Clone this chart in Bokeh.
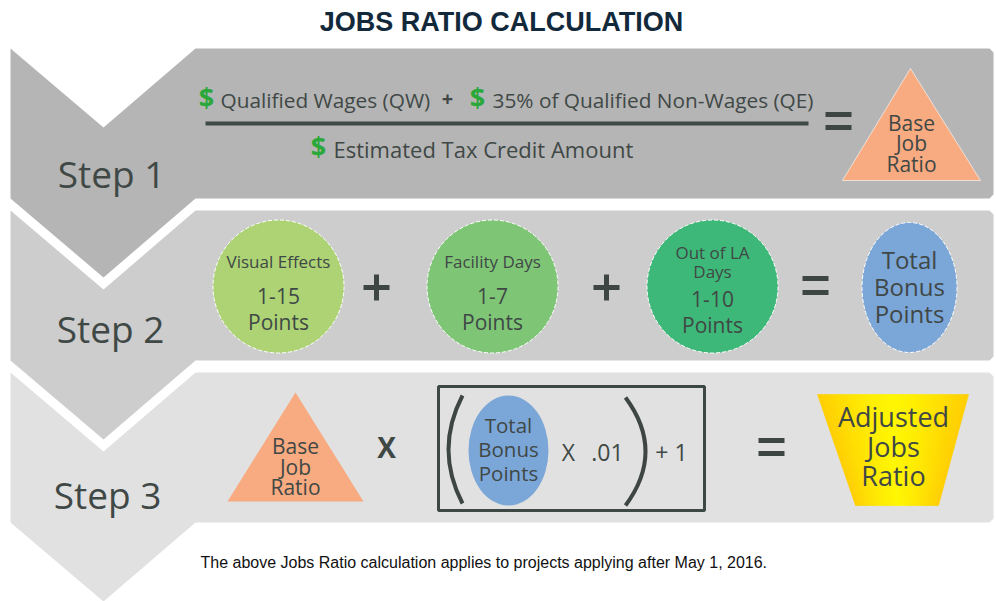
from bokeh.plotting import figure
from bokeh.models import Range1d
from bokeh.core.properties import value
from bokeh.embed import file_html
from bokeh.resources import INLINE

# ---------------- content ----------------
TITLE = "JOBS RATIO CALCULATION"
STEP_LABELS = ["Step 1", "Step 2", "Step 3"]
STEP_COLORS = ["#b5b5b5", "#cdcdcd", "#e1e1e1"]

NUMERATOR_A = "Qualified Wages (QW)"
NUMERATOR_B = "35% of Qualified Non-Wages (QE)"
DENOMINATOR = "Estimated Tax Credit Amount"
BASE_RATIO = ["Base", "Job", "Ratio"]

BONUS_NAMES = [["Visual Effects"], ["Facility Days"], ["Out of LA", "Days"]]
BONUS_RANGES = ["1-15", "1-7", "1-10"]
BONUS_COLORS = ["#add375", "#7ec676", "#3db878"]
TOTAL_BONUS = ["Total", "Bonus", "Points"]
ADJUSTED = ["Adjusted", "Jobs", "Ratio"]
FACTOR = ".01"
FOOTNOTE = "The above Jobs Ratio calculation applies to projects applying after May 1, 2016."

# ---------------- layout ----------------
W, H = 996, 601
TXT = "#404846"
GREEN = "#2aa83a"
ORANGE = "#f8aa80"
BLUE = "#7ba6d8"
OS = "Open Sans"
LS = "Liberation Sans"

p = figure(width=W, height=H, output_backend="svg", toolbar_location=None,
           x_range=Range1d(0, W), y_range=Range1d(H, 0),
           x_axis_type=None, y_axis_type=None, min_border=0)
p.grid.visible = False
p.outline_line_color = None
p.background_fill_color = "white"
p.border_fill_color = "white"


def txt(x, ycap, s, size, color=TXT, font=OS, bold=False, align="center"):
    p.text(x=[x], y=[ycap - 0.045 * size], text=[s],
           text_font=value(font), text_font_size=value(f"{size}px"),
           text_font_style="bold" if bold else "normal",
           text_color=color, text_align=align, text_baseline="alphabetic")


# step bands (chevrons)
STEP_TOPS = [48, 210, 372]
BAND_H = 150
NOTCH = 79
for top, col in zip(STEP_TOPS, STEP_COLORS):
    bot = top + BAND_H
    xs = [10, 103, 195, 989, 993, 993, 989, 195, 103, 10]
    ys = [top, top + NOTCH, top, top, top + 4, bot - 4, bot, bot, bot + NOTCH, bot]
    p.patch(xs, ys, fill_color=col, line_color=None)

STEP_CENTERS = [(111, 175), (110, 330), (107, 496)]
for (cx, cy), lab in zip(STEP_CENTERS, STEP_LABELS):
    txt(cx, cy, lab, 37)

# title
txt(501, 22.5, TITLE, 27, color="#12293b", font=LS, bold=True)

# ---- step 1 ----
txt(206, 97, "$", 27, color=GREEN, bold=True)
txt(220, 100, NUMERATOR_A, 20.8, align="left")
txt(447, 99, "+", 20, bold=True)
txt(477, 97, "$", 27, color=GREEN, bold=True)
txt(492, 100, NUMERATOR_B, 20.8, align="left")
p.segment(x0=[205], y0=[123], x1=[808], y1=[123], line_color="#3f4b47", line_width=4)
txt(318, 146, "$", 27, color=GREEN, bold=True)
txt(333, 149.5, DENOMINATOR, 22, align="left")


def equals(x0, x1, y0, y1):
    p.segment(x0=[x0, x0], y0=[y0, y1], x1=[x1, x1], y1=[y0, y1],
              line_color="#3d4642", line_width=5)


def plus(cx, cy, half):
    p.segment(x0=[cx - half, cx], y0=[cy, cy - half], x1=[cx + half, cx], y1=[cy, cy + half],
              line_color="#3d4642", line_width=5)


equals(825, 851, 114, 127)
p.patch([910, 980, 842], [68, 180, 180], fill_color=ORANGE, line_color="white", line_width=1, line_alpha=0.6)
for yy, s in zip([123, 143, 164], BASE_RATIO):
    txt(911, yy, s, 21)

# ---- step 2 ----
CIRCLE_X = [278, 492, 712]
CIRCLE_Y = 286
for cx, names, rng, col in zip(CIRCLE_X, BONUS_NAMES, BONUS_RANGES, BONUS_COLORS):
    p.ellipse(x=[cx], y=[CIRCLE_Y], width=131, height=133, fill_color=col,
              line_color="white", line_width=1, line_dash="4 2")
    if len(names) == 1:
        txt(cx, 261.5, names[0], 17)
        txt(cx, 296, rng, 21)
        txt(cx, 322.5, "Points", 21)
    else:
        txt(cx, 253, names[0], 17)
        txt(cx, 271.5, names[1], 17)
        txt(cx, 299, rng, 21)
        txt(cx, 325, "Points", 21)

plus(376, 287, 13)
plus(606, 287, 13)
equals(802, 828, 278, 292)
p.ellipse(x=[909], y=[287], width=95, height=130, fill_color=BLUE,
          line_color="white", line_width=1, line_dash="4 2")
for yy, s in zip([260, 287, 314], TOTAL_BONUS):
    txt(909, yy, s, 24)

# ---- step 3 ----
p.patch([295, 363, 227], [392, 501, 501], fill_color=ORANGE, line_color=None)
for yy, s in zip([446, 467, 487], BASE_RATIO):
    txt(295, yy, s, 21)
txt(386, 448, "X", 28, bold=True)

p.quad(left=[438], right=[704], top=[386], bottom=[510], fill_color=None,
       line_color="#3d4844", line_width=3)
p.quadratic(x0=[462, 625], y0=[395, 397], x1=[462, 625], y1=[503, 505],
            cx=[434, 665], cy=[449, 451], line_color="#3d4642", line_width=4)
p.ellipse(x=[508], y=[450], width=80, height=110, fill_color=BLUE, line_color=None)
for yy, s in zip([425, 449, 473], TOTAL_BONUS):
    txt(508, yy, s, 20.5)
txt(568, 453, "X", 23)
txt(607, 453, FACTOR, 23)
txt(671, 453, "+ 1", 23)

equals(758, 784, 440, 453)

# trapezoid with horizontal gradient
TL, TR, BL, BR, TY, BY = 817, 968, 855, 938, 394, 505
N = 40
xs_list, ys_list, cols = [], [], []
for i in range(N):
    f0, f1 = i / N, (i + 1) / N
    fc = (f0 + f1) / 2
    d = min(1.0, abs(fc - 0.5) * 2) ** 1.3
    g = int(round(246 - (246 - 206) * d))
    xs_list.append([TL + f0 * (TR - TL), TL + f1 * (TR - TL), BL + f1 * (BR - BL), BL + f0 * (BR - BL)])
    ys_list.append([TY, TY, BY, BY])
    cols.append(f"#ff{g:02x}00")
p.patches(xs_list, ys_list, fill_color=cols, line_color=cols, line_width=0.6)
for yy, s in zip([417, 447, 476], ADJUSTED):
    txt(893, yy, s, 27)

# footnote
txt(200, 563, FOOTNOTE, 16, color="#111111", font=LS, align="left")

open("out.html", "w").write(file_html(p, INLINE))
